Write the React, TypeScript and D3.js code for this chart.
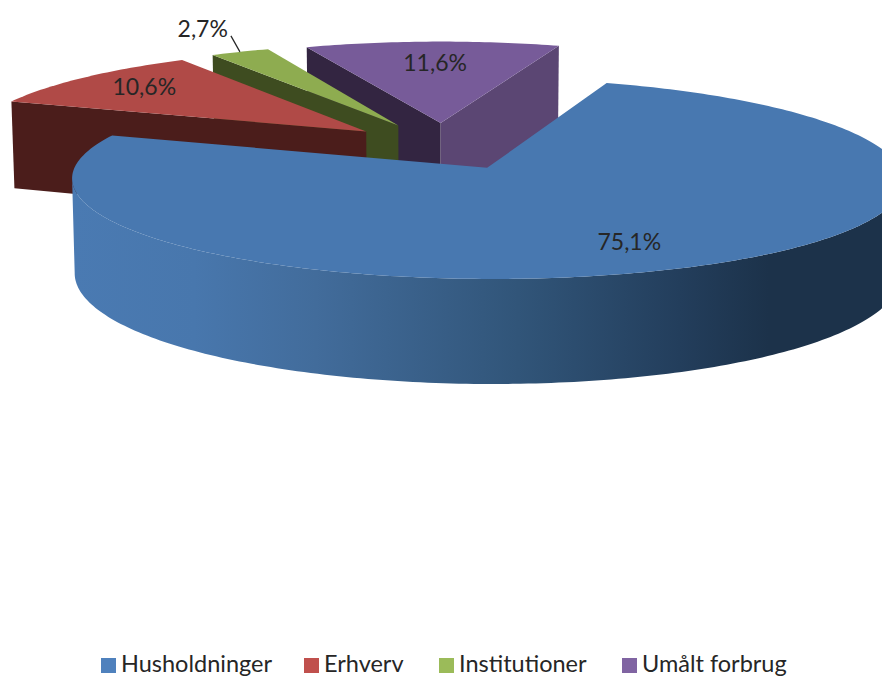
import * as d3 from "d3";

const categories = ["Husholdninger", "Erhverv", "Institutioner", "Umålt forbrug"];
const shares = [75.1, 10.6, 2.7, 11.6];
const labels = ["75,1%", "10,6%", "2,7%", "11,6%"];
const topColors = ["#4878b0", "#b04a47", "#8eac50", "#775b99"];
const legendColors = ["#4f81bd", "#c0504d", "#9bbb59", "#8064a2"];
// faces of the exploded slices: [colour of the first cut side, colour of the second]
const sideColors = [[null, null], ["#4b1d1b", null], ["#3e4c20", null], ["#332541", "#5b4673"]];

const width = 882;
const height = 676;
const font = "Lato, 'Open Sans', sans-serif";

// 3D settings, fitted by eye
const cx = 443;
const cy = 146;
const radiusX = 402;
const radiusZ = 94.5;
const persp = 0.105;
const perspX = 0.115;
const depth = 91.5;
const explode = 0.25;
const firstAngle = (19.5 * Math.PI) / 180;

const pie = d3
  .pie<number>()
  .sort(null)
  .startAngle(firstAngle)
  .endAngle(firstAngle + 2 * Math.PI);

const arcs = pie(shares);

// angle from north, clockwise; r in units of the pie radius
const project = (d: d3.PieArcDatum<number>, angle: number, r: number, bottom = false): [number, number] => {
  const mid = (d.startAngle + d.endAngle) / 2;
  const X = explode * Math.sin(mid) + r * Math.sin(angle);
  const Z = -explode * Math.cos(mid) - r * Math.cos(angle);
  const w = 1 - persp * Z;
  const sx = (radiusX * X) / (1 - perspX * Z);
  const sy = (radiusZ * Z) / w;
  if (!bottom) return [cx + sx, cy + sy];
  return [cx + sx * 0.993, cy + sy + depth / w];
};

const line = d3.line();

const rim = (d: d3.PieArcDatum<number>, bottom = false) => {
  const n = Math.ceil((d.endAngle - d.startAngle) * 60);
  return d3.range(n + 1).map((i) => project(d, d.startAngle + ((d.endAngle - d.startAngle) * i) / n, 1, bottom));
};

const topPath = (d: d3.PieArcDatum<number>) =>
  line([project(d, 0, 0), ...rim(d)]) + "Z";

// only the part of the outer wall between the two silhouette points faces us
const wallPath = (d: d3.PieArcDatum<number>) => {
  const top = rim(d);
  const from = d3.greatestIndex(top, (p) => p[0]);
  const to = d3.leastIndex(top, (p) => p[0]);
  const front = top.slice(from, to + 1);
  const back = rim(d, true).slice(from, to + 1).reverse();
  return line([...front, ...back]) + "Z";
};

const sidePath = (d: d3.PieArcDatum<number>, angle: number) =>
  line([project(d, 0, 0), project(d, angle, 1), project(d, angle, 1, true), project(d, 0, 0, true)]) + "Z";

const midAngle = (d: d3.PieArcDatum<number>) => (d.startAngle + d.endAngle) / 2;

const blueStops: [number, string][] = [
  [0, "#4a7ab2"],
  [0.15, "#4877ad"],
  [0.3, "#426c9b"],
  [0.55, "#315579"],
  [0.75, "#233e5c"],
  [0.86, "#1c324a"],
  [1, "#1c324a"],
];

// painter's order: each slice overlaps the one before it
const drawOrder = [3, 2, 1, 0];

// small hand nudges so the labels sit where Excel put them
const labelNudge: [number, number][] = [[-12, -2], [1, -2], [0, 0], [1, 5]];

// legend x positions follow the text widths in the original
const legendX = [101, 304, 439, 622];

export default function App() {
  const green = arcs[2];
  const leaderEnd = project(green, midAngle(green), 1);
  const leaderStart: [number, number] = [leaderEnd[0] - 9, leaderEnd[1] - 16];

  return (
    <svg
      width={width}
      height={height}
      style={{ position: "absolute", left: 0, top: 0, background: "#fff" }}
      fontFamily={font}
    >
      <defs>
        <linearGradient id="blueWall" gradientUnits="userSpaceOnUse" x1={73} x2={882} y1={0} y2={0}>
          {blueStops.map(([o, c]) => (
            <stop key={o} offset={o} stopColor={c} />
          ))}
        </linearGradient>
      </defs>

      {drawOrder.map((i) => {
        const d = arcs[i];
        const [startSide, endSide] = sideColors[i];
        return (
          <g key={categories[i]}>
            {i === 0 && <path d={wallPath(d)} fill="url(#blueWall)" />}
            {startSide && <path d={sidePath(d, d.startAngle)} fill={startSide} />}
            {endSide && <path d={sidePath(d, d.endAngle)} fill={endSide} />}
            <path d={topPath(d)} fill={topColors[i]} />
          </g>
        );
      })}

      {arcs.map((d, i) => {
        if (i === 2) return null;
        const [x, y] = project(d, midAngle(d), 0.78);
        return (
          <text
            key={labels[i]}
            x={x + labelNudge[i][0]}
            y={y + 8 + labelNudge[i][1]}
            textAnchor="middle"
            fontSize={23}
            fill="#262626"
          >
            {labels[i]}
          </text>
        );
      })}

      <line
        x1={leaderStart[0]}
        y1={leaderStart[1]}
        x2={leaderEnd[0]}
        y2={leaderEnd[1]}
        stroke="#262626"
        strokeWidth={1.2}
      />
      <text x={leaderStart[0] - 3} y={leaderStart[1] + 1} textAnchor="end" fontSize={23} fill="#262626">
        {labels[2]}
      </text>

      {categories.map((c, i) => (
        <g key={c} transform={`translate(${legendX[i]},658)`}>
          <rect width={15} height={15} fill={legendColors[i]} />
          <text x={20} y={13.5} fontSize={23.5} fill="#262626">
            {c}
          </text>
        </g>
      ))}
    </svg>
  );
}
